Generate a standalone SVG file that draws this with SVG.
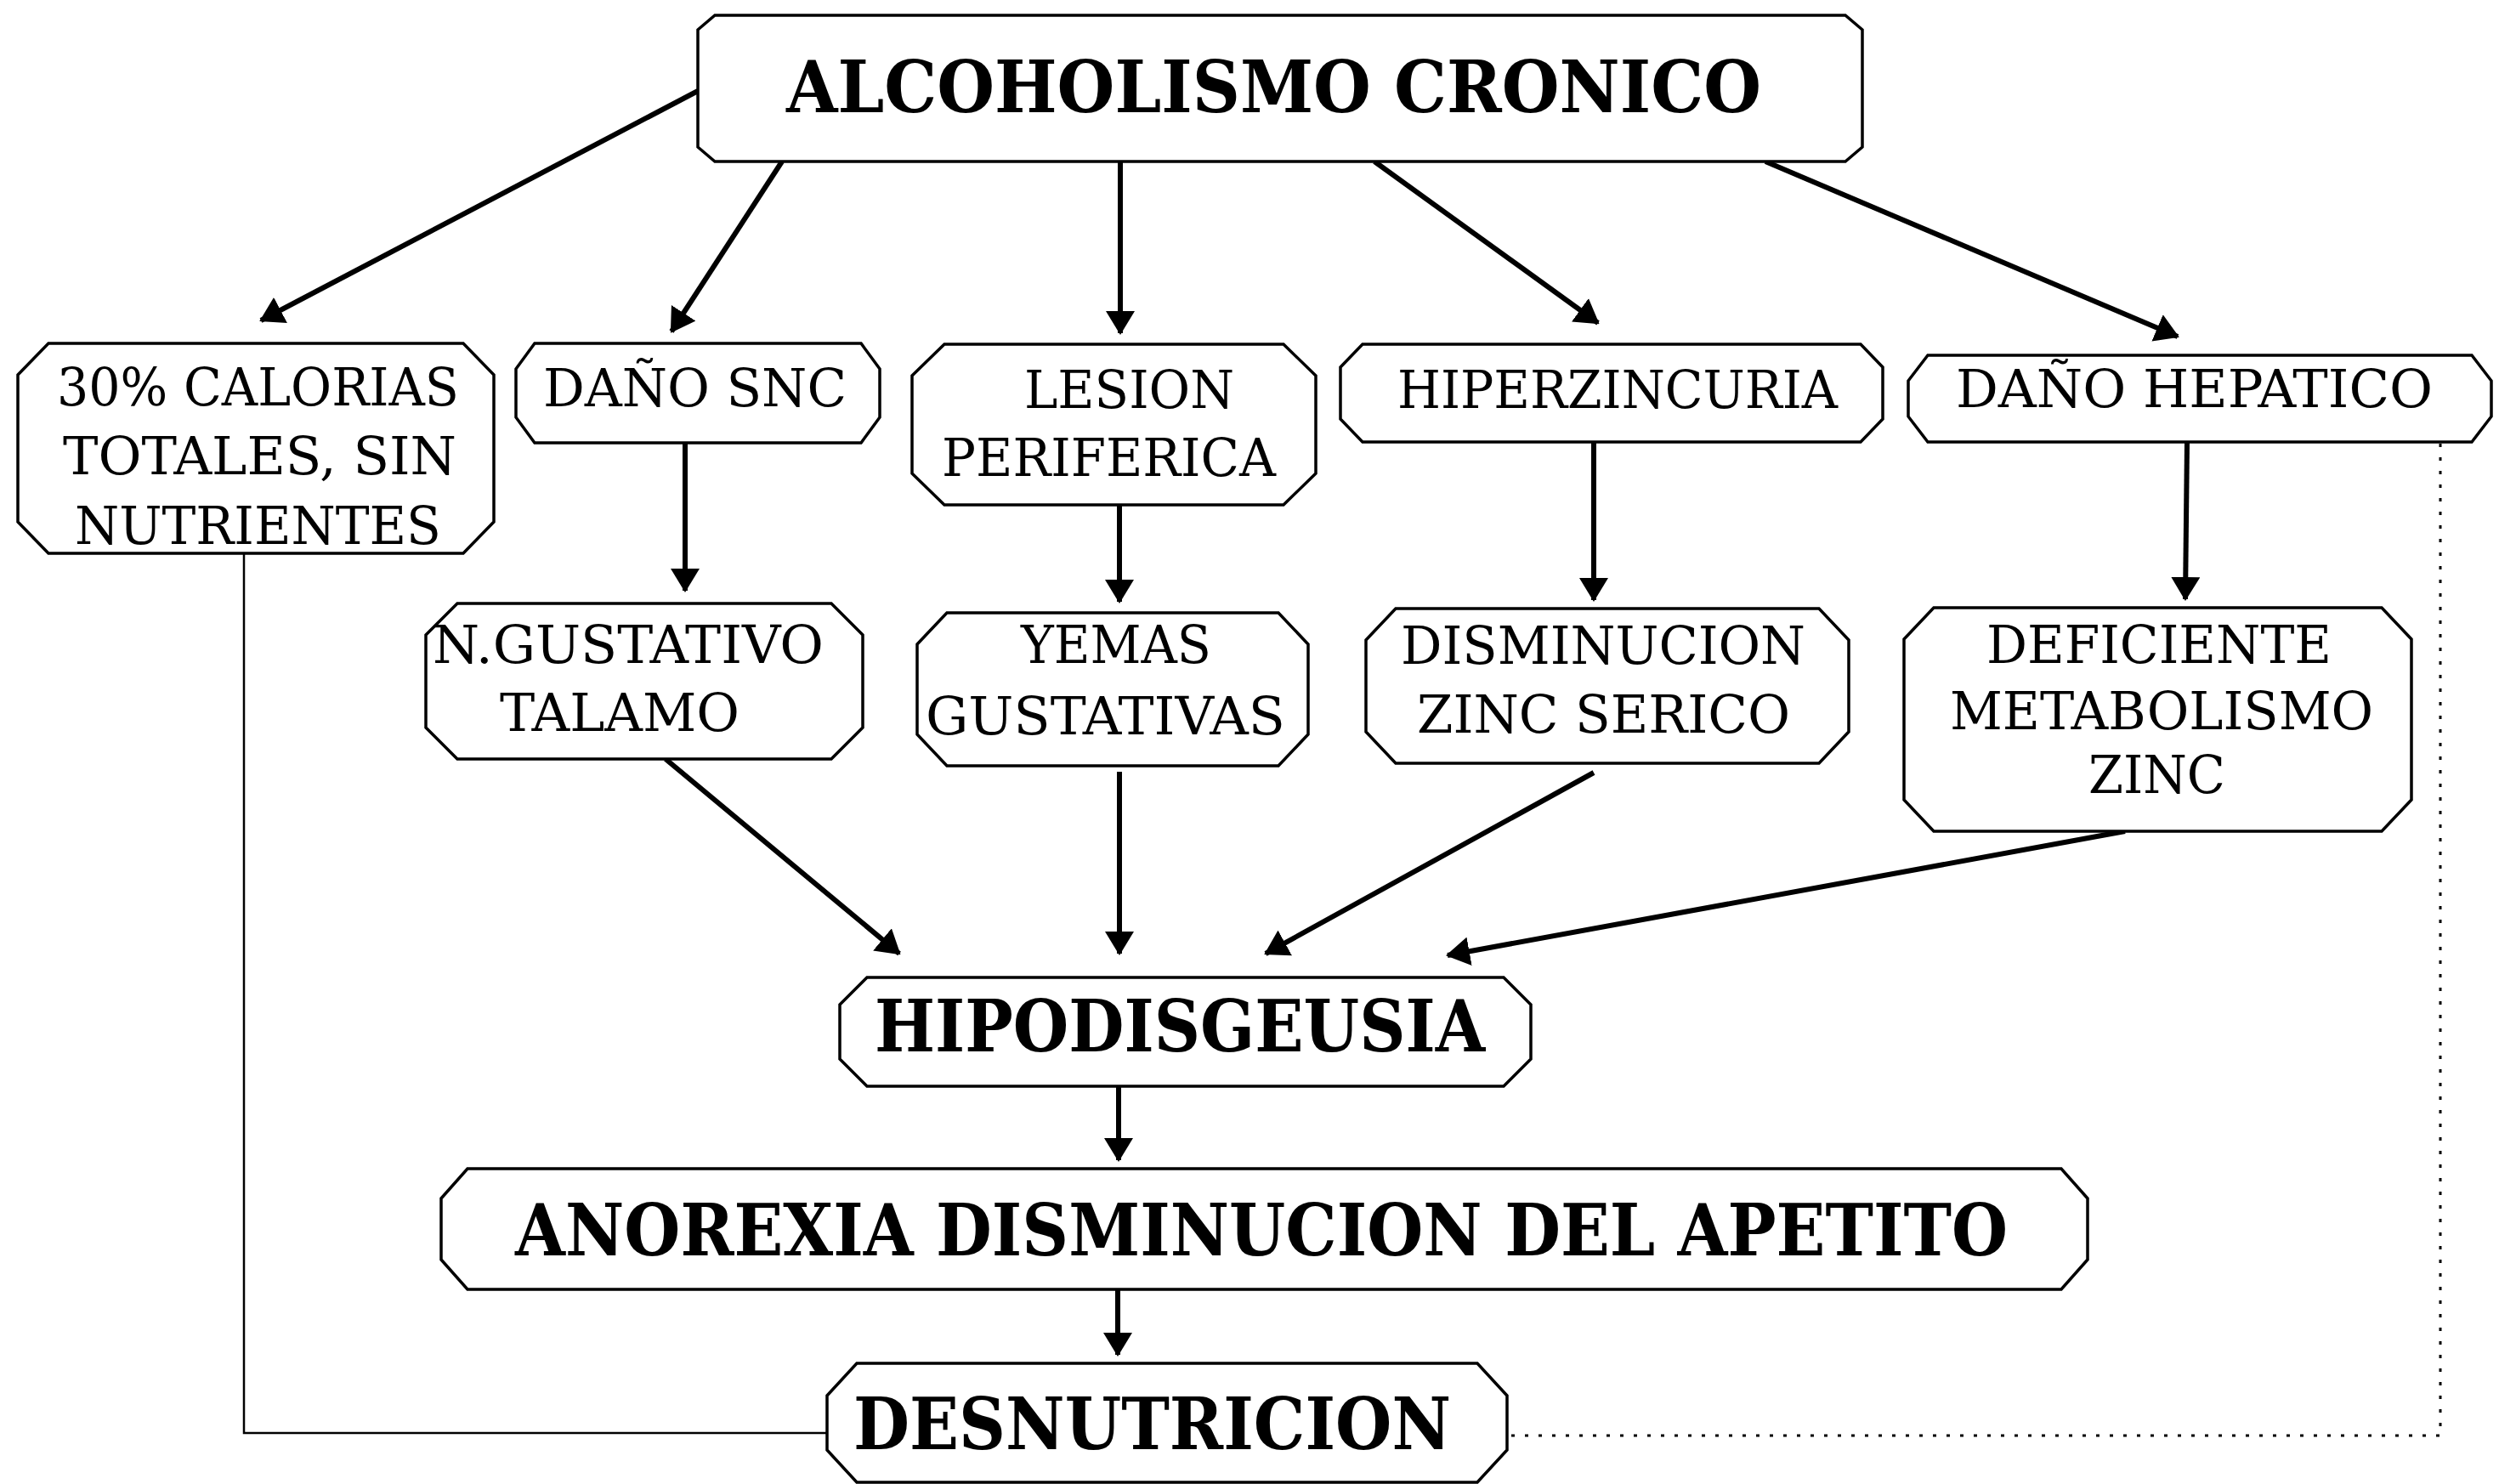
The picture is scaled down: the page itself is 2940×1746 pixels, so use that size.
<svg xmlns="http://www.w3.org/2000/svg" width="2940" height="1746" viewBox="0 0 2940 1746">
<style>
.box{fill:#fff;stroke:#000;stroke-width:3.5;stroke-linejoin:miter}
.t{font-family:"DejaVu Serif Condensed","DejaVu Serif","Liberation Serif",serif;font-stretch:condensed;font-size:62px;fill:#000}
.b{font-family:"DejaVu Serif Condensed","DejaVu Serif","Liberation Serif",serif;font-stretch:condensed;font-size:84px;font-weight:bold;fill:#000}
.c{fill:none;stroke:#000;stroke-width:6}
.thin{fill:none;stroke:#000;stroke-width:2.5}
.dot{fill:none;stroke:#000;stroke-width:3;stroke-dasharray:4 12}
</style>
<defs>
<marker id="ah" viewBox="0 0 28 34" refX="26" refY="17" markerWidth="28" markerHeight="34" markerUnits="userSpaceOnUse" orient="auto">
<path d="M0,0 L28,17 L0,34 z" fill="#000"/>
</marker>
</defs>
<rect width="2940" height="1746" fill="#fff"/>
<g id="connectors">
<path class="c" d="M821,107 L307,377" marker-end="url(#ah)"/>
<path class="c" d="M920,190 L790,390" marker-end="url(#ah)"/>
<path class="c" d="M1318,190 L1318,392" marker-end="url(#ah)"/>
<path class="c" d="M1617,190 L1880,380" marker-end="url(#ah)"/>
<path class="c" d="M2077,190 L2562,396" marker-end="url(#ah)"/>
<path class="c" d="M806,521 L806,695" marker-end="url(#ah)"/>
<path class="c" d="M1317,594 L1317,708" marker-end="url(#ah)"/>
<path class="c" d="M1875,520 L1875,706" marker-end="url(#ah)"/>
<path class="c" d="M2573,520 L2571,705" marker-end="url(#ah)"/>
<path class="c" d="M783,893 L1058,1122" marker-end="url(#ah)"/>
<path class="c" d="M1317,908 L1317,1122" marker-end="url(#ah)"/>
<path class="c" d="M1875,909 L1489,1122" marker-end="url(#ah)"/>
<path class="c" d="M2500,978 L1703,1124" marker-end="url(#ah)"/>
<path class="c" d="M1316,1278 L1316,1365" marker-end="url(#ah)"/>
<path class="c" d="M1315,1517 L1315,1594" marker-end="url(#ah)"/>
<path class="thin" d="M287,651 L287,1686 L973,1686"/>
<path class="dot" d="M2871,522 L2871,1689 L1773,1689"/>
</g>
<g id="alcoholismo">
<polygon class="box" points="841,18 2171,18 2191,35 2191,173 2171,190 841,190 821,173 821,35"/>
<text class="b" x="925" y="132" textLength="1147" lengthAdjust="spacingAndGlyphs">ALCOHOLISMO CRONICO</text>
</g>
<g id="calorias">
<polygon class="box" points="57,404 545,404 581,441 581,614 545,651 57,651 21,614 21,441"/>
<text class="t" x="67" y="477" textLength="473" lengthAdjust="spacingAndGlyphs">30% CALORIAS</text>
<text class="t" x="74" y="558" textLength="463" lengthAdjust="spacingAndGlyphs">TOTALES, SIN</text>
<text class="t" x="88" y="640" textLength="431" lengthAdjust="spacingAndGlyphs">NUTRIENTES</text>
</g>
<g id="dano-snc">
<polygon class="box" points="629,404 1013,404 1035,434 1035,491 1013,521 629,521 607,491 607,434"/>
<text class="t" x="639" y="478" textLength="357" lengthAdjust="spacingAndGlyphs">DAÑO SNC</text>
</g>
<g id="lesion">
<polygon class="box" points="1111,405 1510,405 1548,442 1548,557 1510,594 1111,594 1073,557 1073,442"/>
<text class="t" x="1205" y="480" textLength="247" lengthAdjust="spacingAndGlyphs">LESION</text>
<text class="t" x="1108" y="560" textLength="393" lengthAdjust="spacingAndGlyphs">PERIFERICA</text>
</g>
<g id="hiperzincuria">
<polygon class="box" points="1603,405 2189,405 2215,432 2215,493 2189,520 1603,520 1577,493 1577,432"/>
<text class="t" x="1644" y="480" textLength="518" lengthAdjust="spacingAndGlyphs">HIPERZINCURIA</text>
</g>
<g id="dano-hepatico">
<polygon class="box" points="2268,418 2908,418 2931,448 2931,490 2908,520 2268,520 2245,490 2245,448"/>
<text class="t" x="2301" y="479" textLength="561" lengthAdjust="spacingAndGlyphs">DAÑO HEPATICO</text>
</g>
<g id="n-gustativo">
<polygon class="box" points="538,710 978,710 1015,747 1015,856 978,893 538,893 501,856 501,747"/>
<text class="t" x="509" y="780" textLength="460" lengthAdjust="spacingAndGlyphs">N.GUSTATIVO</text>
<text class="t" x="588" y="860" textLength="282" lengthAdjust="spacingAndGlyphs">TALAMO</text>
</g>
<g id="yemas">
<polygon class="box" points="1114,721 1504,721 1539,758 1539,864 1504,901 1114,901 1079,864 1079,758"/>
<text class="t" x="1201" y="780" textLength="224" lengthAdjust="spacingAndGlyphs">YEMAS</text>
<text class="t" x="1089" y="864" textLength="423" lengthAdjust="spacingAndGlyphs">GUSTATIVAS</text>
</g>
<g id="disminucion">
<polygon class="box" points="1642,716 2140,716 2175,753 2175,861 2140,898 1642,898 1607,861 1607,753"/>
<text class="t" x="1648" y="781" textLength="476" lengthAdjust="spacingAndGlyphs">DISMINUCION</text>
<text class="t" x="1667" y="862" textLength="439" lengthAdjust="spacingAndGlyphs">ZINC SERICO</text>
</g>
<g id="deficiente">
<polygon class="box" points="2275,715 2802,715 2837,752 2837,941 2802,978 2275,978 2240,941 2240,752"/>
<text class="t" x="2337" y="780" textLength="406" lengthAdjust="spacingAndGlyphs">DEFICIENTE</text>
<text class="t" x="2294" y="858" textLength="498" lengthAdjust="spacingAndGlyphs">METABOLISMO</text>
<text class="t" x="2457" y="933" textLength="161" lengthAdjust="spacingAndGlyphs">ZINC</text>
</g>
<g id="hipodisgeusia">
<polygon class="box" points="1020,1150 1769,1150 1801,1182 1801,1246 1769,1278 1020,1278 988,1246 988,1182"/>
<text class="b" x="1029" y="1237" textLength="718" lengthAdjust="spacingAndGlyphs">HIPODISGEUSIA</text>
</g>
<g id="anorexia">
<polygon class="box" points="550,1375 2425,1375 2456,1410 2456,1482 2425,1517 550,1517 519,1482 519,1410"/>
<text class="b" x="606" y="1477" textLength="1756" lengthAdjust="spacingAndGlyphs">ANOREXIA DISMINUCION DEL APETITO</text>
</g>
<g id="desnutricion">
<polygon class="box" points="1008,1604 1738,1604 1773,1642 1773,1706 1738,1744 1008,1744 973,1706 973,1642"/>
<text class="b" x="1004" y="1705" textLength="703" lengthAdjust="spacingAndGlyphs">DESNUTRICION</text>
</g>
</svg>
